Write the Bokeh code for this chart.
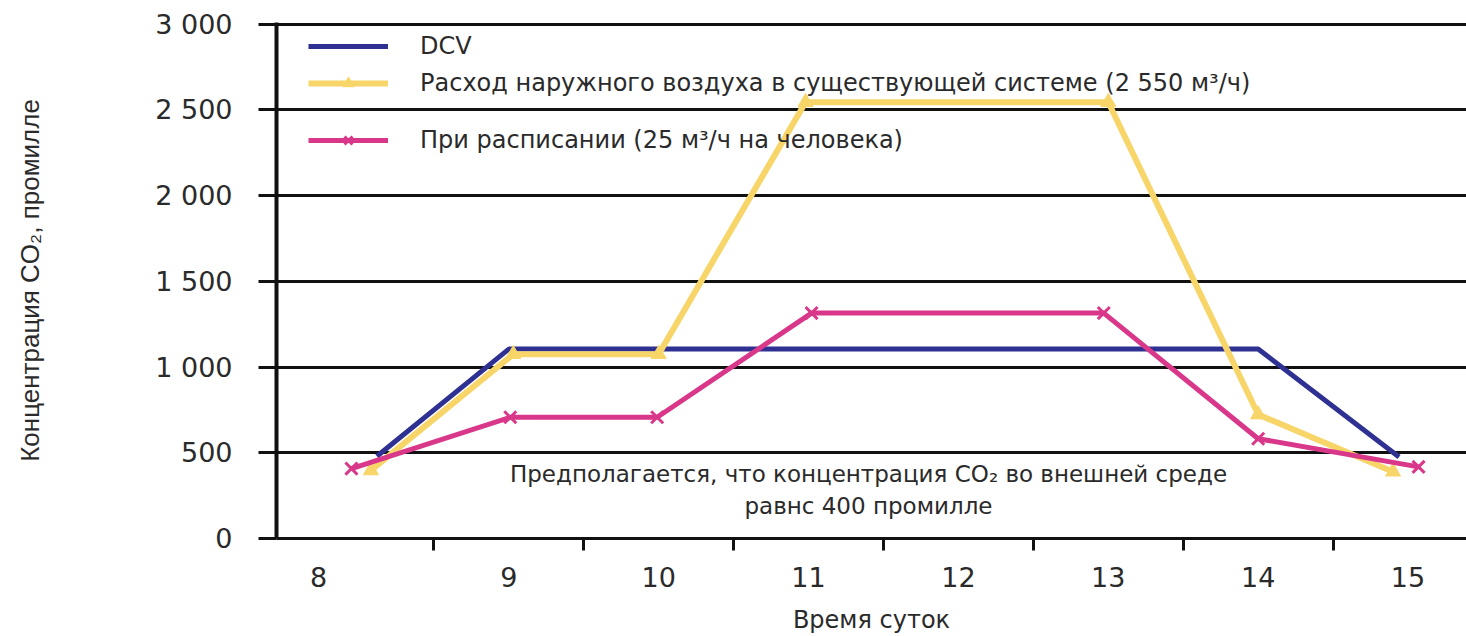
from bokeh.plotting import figure
from bokeh.models import Range1d, FixedTicker, Legend, LegendItem
from bokeh.core.properties import value
from bokeh.embed import file_html
from bokeh.resources import INLINE

# ---- data ----
x_tick_positions = [7.73, 9, 10, 11, 12, 13, 14, 15]
x_tick_labels = ["8", "9", "10", "11", "12", "13", "14", "15"]
x_minor_ticks = [8.5, 9.5, 10.5, 11.5, 12.5, 13.5, 14.5]
y_tick_positions = [0, 500, 1000, 1500, 2000, 2500, 3000]
y_tick_labels = ["0", "500", "1 000", "1 500", "2 000", "2 500", "3 000"]

dcv_x = [8.12, 9.0, 14.0, 14.94]
dcv_y = [480, 1105, 1105, 476]

outdoor_x = [8.08, 9.03, 10.0, 10.98, 13.0, 14.0, 14.9]
outdoor_y = [397, 1075, 1075, 2545, 2545, 723, 390]

schedule_x = [7.95, 9.01, 9.99, 11.02, 12.97, 14.0, 15.07]
schedule_y = [408, 707, 707, 1315, 1315, 582, 418]

label_dcv = "DCV"
label_outdoor = "Расход наружного воздуха в существующей системе (2 550 м³/ч)"
label_schedule = "При расписании (25 м³/ч на человека)"

note_lines = ["Предполагается, что концентрация CO₂ во внешней среде",
              "равнс 400 промилле"]
note_x = [11.40, 11.40]
note_y = [376, 188]

x_title = "Время суток"
y_title = "Концентрация CO₂, промилле"

# ---- style ----
C_DCV = "#2e3192"
C_OUT = "#f8d568"
C_SCH = "#d9378a"
TXT = "#2a2a2a"
FONT = "DejaVu Sans"

p = figure(width=1466, height=636, output_backend="svg", toolbar_location=None,
           x_range=Range1d(7.45, 15.39), y_range=Range1d(0, 3010),
           min_border_left=276, min_border_right=0, min_border_top=22,
           min_border_bottom=98)
p.outline_line_color = None
p.background_fill_color = "white"
p.border_fill_color = "white"

# grid
p.xgrid.visible = False
p.ygrid.ticker = FixedTicker(ticks=y_tick_positions)
p.ygrid.grid_line_color = "#111111"
p.ygrid.grid_line_width = 3

# x axis
xa = p.xaxis[0]
xa.ticker = FixedTicker(ticks=x_tick_positions, minor_ticks=x_minor_ticks)
xa.major_label_overrides = {t: l for t, l in zip(x_tick_positions, x_tick_labels)}
xa.major_tick_line_color = None
xa.major_tick_out = 0
xa.major_tick_in = 0
xa.minor_tick_line_color = "#111111"
xa.minor_tick_line_width = 3
xa.minor_tick_out = 12
xa.minor_tick_in = 0
xa.axis_line_color = "#111111"
xa.axis_line_width = 3
xa.major_label_standoff = 16
xa.major_label_text_font = FONT
xa.major_label_text_font_size = "27px"
xa.major_label_text_color = TXT
xa.axis_label = x_title
xa.axis_label_text_font = FONT
xa.axis_label_text_font_size = "24px"
xa.axis_label_text_font_style = "normal"
xa.axis_label_text_color = TXT
xa.axis_label_standoff = 16

# y axis
ya = p.yaxis[0]
ya.ticker = FixedTicker(ticks=y_tick_positions)
ya.major_label_overrides = {t: l for t, l in zip(y_tick_positions, y_tick_labels)}
ya.major_tick_line_color = "#111111"
ya.major_tick_line_width = 3
ya.major_tick_out = 18
ya.major_tick_in = 0
ya.minor_tick_line_color = None
ya.axis_line_color = "#111111"
ya.axis_line_width = 4
ya.major_label_standoff = 26
ya.major_label_text_font = FONT
ya.major_label_text_font_size = "27px"
ya.major_label_text_color = TXT
ya.axis_label = y_title
ya.axis_label_text_font = "Liberation Sans"
ya.axis_label_text_font_size = "26px"
ya.axis_label_text_font_style = "normal"
ya.axis_label_text_color = TXT
ya.axis_label_standoff = 107

# series
r_dcv = p.line(dcv_x, dcv_y, line_color=C_DCV, line_width=5)
r_out = p.line(outdoor_x, outdoor_y, line_color=C_OUT, line_width=6)
r_out_m = p.scatter(outdoor_x, outdoor_y, marker="triangle", size=15,
                    fill_color=C_OUT, line_color=C_OUT)
r_sch = p.line(schedule_x, schedule_y, line_color=C_SCH, line_width=5)
r_sch_m = p.scatter(schedule_x, schedule_y, marker="x", size=17,
                    line_color=C_SCH, line_width=3)

# note
p.text(x=note_x, y=note_y, text=note_lines, text_align="center",
       text_baseline="middle", text_font=value(FONT), text_font_size="23px",
       text_color=TXT)

def make_legend(items, loc):
    lg = Legend(items=items, location=loc)
    lg.background_fill_alpha = 0
    lg.border_line_color = None
    lg.padding = 0
    lg.margin = 0
    lg.spacing = 9
    lg.glyph_width = 80
    lg.glyph_height = 28
    lg.label_height = 28
    lg.label_standoff = 32
    lg.label_text_font = FONT
    lg.label_text_font_size = "24px"
    lg.label_text_color = TXT
    return lg

leg1 = make_legend([LegendItem(label=label_dcv, renderers=[r_dcv]),
                    LegendItem(label=label_outdoor, renderers=[r_out, r_out_m])],
                   (32, 441))
leg2 = make_legend([LegendItem(label=label_schedule, renderers=[r_sch, r_sch_m])],
                   (32, 384))
p.add_layout(leg1)
p.add_layout(leg2)

open("out.html", "w").write(file_html(p, INLINE))
